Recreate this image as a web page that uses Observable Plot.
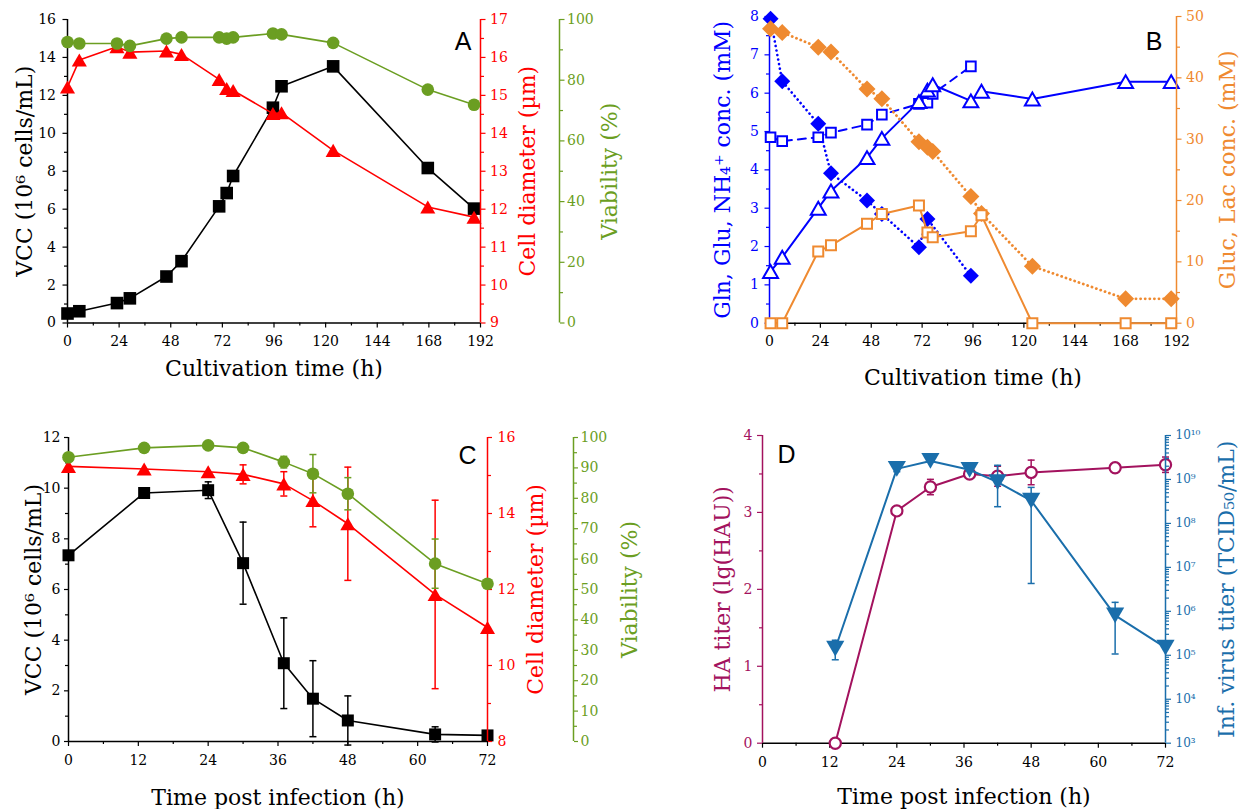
<!DOCTYPE html>
<html>
<head>
<meta charset="utf-8">
<script src="https://cdn.jsdelivr.net/npm/d3@7"></script>
<script src="https://cdn.jsdelivr.net/npm/@observablehq/plot@0.6"></script>
<style>
  html, body { margin: 0; padding: 0; background: #fff; }
  #fig { position: relative; width: 1248px; height: 809px; overflow: hidden; background: #fff; }
  #fig svg { position: absolute; max-width: none; }
</style>
</head>
<body>
<div id="fig"></div>
<script>
// ---------- Panel A: batch cultivation (cell growth) ----------
const timeA      = [0, 5.5, 23, 29, 46, 53, 70.5, 74, 77, 95.5, 99.5, 123.5, 167.5, 189];
const vccA       = [0.5, 0.62, 1.05, 1.3, 2.45, 3.26, 6.15, 6.85, 7.75, 11.35, 12.48, 13.53, 8.17, 6.03];
const diameterA  = [15.22, 15.93, 16.28, 16.14, 16.17, 16.08, 15.42, 15.18, 15.13, 14.52, 14.54, 13.55, 12.06, 11.79];
const viabilityA = [92.6, 92.1, 92.1, 91.3, 93.7, 94.1, 94.1, 93.7, 94.1, 95.4, 95.1, 92.3, 76.9, 71.9];

// ---------- Panel B: metabolites ----------
const timeGln = [0.5, 6, 23, 29, 46, 53, 70.5, 74.5, 95];
const glnB    = [7.94, 6.31, 5.2, 3.91, 3.2, 2.85, 1.98, 2.72, 1.24];
const timeGlu = [0.5, 6, 23, 29, 46, 53, 70.5, 74.5, 77, 95];
const gluB    = [4.85, 4.75, 4.85, 4.97, 5.18, 5.44, 5.72, 5.75, 5.98, 6.7];
const timeB   = [0.5, 6, 23, 29, 46, 53, 70.5, 74.5, 77, 95, 100, 124, 168, 189.5];
const nh4B    = [1.35, 1.72, 3.0, 3.45, 4.32, 4.82, 5.78, 6.08, 6.22, 5.8, 6.05, 5.85, 6.3, 6.3];
const glucB   = [48.0, 47.4, 45.0, 44.2, 38.2, 36.6, 29.6, 28.7, 28.0, 20.65, 17.9, 9.3, 3.97, 3.97];
const lacB    = [0, 0, 11.7, 12.7, 16.2, 17.8, 19.2, 14.8, 14.0, 15.0, 17.6, 0, 0, 0];

// ---------- Panel C: infection phase (cells) ----------
const timeC        = [0, 13, 24, 30, 37, 42, 48, 63, 72];
const vccC         = [7.35, 9.81, 9.92, 7.04, 3.09, 1.69, 0.83, 0.28, 0.24];
const vccErrC      = [0, 0, 0.33, 1.62, 1.79, 1.5, 0.97, 0.3, 0];
const diameterC    = [15.24, 15.17, 15.1, 15.03, 14.78, 14.34, 13.73, 11.87, 11.0];
const diameterErrC = [0, 0, 0, 0.25, 0.32, 0.69, 1.49, 2.48, 0];
const viabilityC   = [93.5, 96.6, 97.4, 96.6, 91.9, 88.1, 81.5, 58.5, 51.9];
const viabErrC     = [0, 0, 0, 0, 1.9, 6.3, 5.3, 8.1, 0];

// ---------- Panel D: virus titers ----------
const timeD     = [13, 24, 30, 37, 42, 48, 63, 72];
const haD       = [0, 3.02, 3.33, 3.5, 3.47, 3.52, 3.58, 3.62];
const haErrD    = [0, 0.05, 0.1, 0.04, 0.13, 0.16, 0, 0.1];
const titerD    = [1.41e5, 1.74e9, 2.63e9, 1.66e9, 8.7e8, 3.3e8, 8.1e5, 1.5e5];
const titerLoD  = [7.9e4, 1.5e9, null, null, 2.4e8, 4.3e6, 1.07e5, null];
const titerHiD  = [2.2e5, 2.0e9, null, null, 2.1e9, 6.6e8, 1.6e6, null];

// ---------- tick values ----------
const ticksCultMajor = [0, 24, 48, 72, 96, 120, 144, 168, 192];
const ticksCultMinor = [12, 36, 60, 84, 108, 132, 156, 180];
const ticksInfMajor  = [0, 12, 24, 36, 48, 60, 72];
const ticksInfMinor  = [6, 18, 30, 42, 54, 66];

// ---------- styling ----------
const SERIF = '"DejaVu Serif", "Liberation Serif", serif';
const SANS = '"Liberation Sans", Arial, sans-serif';
const RED = "#ff0000", GREEN = "#6b9e22", BLUE = "#0000ff", ORANGE = "#ef8a30";
const MAGENTA = "#a3125e", STEEL = "#1a6eab";

// marker shapes; the symbol size is pi*r^2, so h below equals the dot's r
const half = s => Math.sqrt(s / Math.PI);
const capSym = {draw(c, s) { const h = half(s); c.moveTo(-h, 0); c.lineTo(h, 0); }};
const squareSym = {draw(c, s) { const h = half(s); c.rect(-h, -h, 2 * h, 2 * h); }};
const diamondSym = {draw(c, s) { const h = half(s); c.moveTo(0, -h); c.lineTo(h, 0); c.lineTo(0, h); c.lineTo(-h, 0); c.closePath(); }};
const triUpSym = {draw(c, s) { const h = half(s); c.moveTo(0, -0.75 * h); c.lineTo(0.866 * h, 0.75 * h); c.lineTo(-0.866 * h, 0.75 * h); c.closePath(); }};
const triDownSym = {draw(c, s) { const h = half(s); c.moveTo(0, 0.75 * h); c.lineTo(0.866 * h, -0.75 * h); c.lineTo(-0.866 * h, -0.75 * h); c.closePath(); }};

const SUP = {"0": "⁰", "1": "¹", "2": "²", "3": "³", "4": "⁴", "5": "⁵", "6": "⁶", "7": "⁷", "8": "⁸", "9": "⁹"};
const powerOfTen = d => "10" + String(Math.round(Math.log10(d))).split("").map(c => SUP[c]).join("");
const plain = d => String(d);

const fig = document.getElementById("fig");

// Each panel is a stack of transparent plots sharing the same frame, one per y scale.
function layer(p, y, marks) {
  const svg = Plot.plot({
    width: p.width, height: p.height,
    marginLeft: p.ml, marginRight: p.mr, marginTop: p.mt, marginBottom: p.mb,
    x: {domain: p.xDomain, axis: null},
    y: {...y, axis: null},
    style: {fontFamily: SERIF, fontSize: "14px", background: "none", overflow: "visible", color: "black"},
    marks
  });
  svg.style.left = p.left + "px";
  svg.style.top = p.top + "px";
  fig.appendChild(svg);
}

function yAxis({anchor, major, minor, color, edge, dx = 0, size = 4.5, pad = 5, format = plain, fontSize = 14}) {
  return [
    Plot.ruleX([edge], {stroke: color, strokeWidth: 1.5, dx}),
    Plot.axisY({anchor, ticks: minor, tickSize: 3, stroke: color, strokeWidth: 1.2, fill: "none", dx, label: null}),
    Plot.axisY({anchor, ticks: major, tickSize: size, tickPadding: pad, stroke: color, strokeWidth: 1.2,
                fill: color, dx, label: null, tickFormat: format, fontSize})
  ];
}

function xAxis({major, minor, edge, pad = 7}) {
  return [
    Plot.ruleY([edge], {stroke: "black", strokeWidth: 1.5}),
    Plot.axisX({ticks: minor, tickSize: 3, stroke: "black", strokeWidth: 1.2, fill: "none", label: null}),
    Plot.axisX({ticks: major, tickSize: 5, tickPadding: pad, stroke: "black", strokeWidth: 1.2,
                fill: "black", label: null, tickFormat: plain, fontSize: 14})
  ];
}

function yTitle(text, anchor, dx, color) {
  return Plot.text([text], {frameAnchor: anchor, rotate: -90, dx, fill: color, fontSize: 22,
                            textAnchor: "middle", lineAnchor: "middle"});
}
function xTitle(text, dy) {
  return Plot.text([text], {frameAnchor: "bottom", dy, fill: "black", fontSize: 22,
                            textAnchor: "middle", lineAnchor: "middle"});
}
function panelLetter(text, anchor, dx, dy) {
  return Plot.text([text], {frameAnchor: anchor, dx, dy, fontSize: 25, fontFamily: SANS, fill: "black",
                            textAnchor: anchor.endsWith("right") ? "end" : "start", lineAnchor: "middle"});
}

function errorBars(rows, {x, lo, hi, color, r = 3.5}) {
  return [
    Plot.ruleX(rows, {x, y1: lo, y2: hi, stroke: color, strokeWidth: 1.5}),
    Plot.dot(rows, {x, y: lo, symbol: capSym, r, stroke: color, strokeWidth: 1.5, fill: "none"}),
    Plot.dot(rows, {x, y: hi, symbol: capSym, r, stroke: color, strokeWidth: 1.5, fill: "none"})
  ];
}

// dotted line style (round dots)
const DOTS = {strokeDasharray: "0.1,4.5", strokeLinecap: "round"};

// ================= Panel A =================
const pA = {left: 0, top: 0, width: 624, height: 400, ml: 67, mr: 144, mt: 19, mb: 77.5, xDomain: [0, 192]};
const rowsA = timeA.map((t, i) => ({t, vcc: vccA[i], d: diameterA[i], v: viabilityA[i]}));

layer(pA, {domain: [0, 16]}, [
  ...xAxis({major: ticksCultMajor, minor: ticksCultMinor, edge: 0, pad: 8}),
  ...yAxis({anchor: "left", major: d3.range(0, 17, 2), minor: d3.range(1, 16, 2), color: "black", edge: 0, size: 4.5, pad: 7}),
  Plot.line(rowsA, {x: "t", y: "vcc", stroke: "black", strokeWidth: 1.6}),
  Plot.dot(rowsA, {x: "t", y: "vcc", symbol: squareSym, r: 6.3, fill: "black"}),
  yTitle("VCC (10⁶ cells/mL)", "left", -43, "black"),
  xTitle("Cultivation time (h)", 46),
  panelLetter("A", "top-right", -9, 22.5)
]);
layer(pA, {domain: [9, 17]}, [
  ...yAxis({anchor: "right", major: d3.range(9, 18, 1), minor: d3.range(9.5, 17, 1), color: RED, edge: 192, size: 4.5, pad: 5}),
  Plot.line(rowsA, {x: "t", y: "d", stroke: RED, strokeWidth: 1.6}),
  Plot.dot(rowsA, {x: "t", y: "d", symbol: triUpSym, r: 8.7, fill: RED}),
  yTitle("Cell diameter (µm)", "right", 47, RED)
]);
layer(pA, {domain: [0, 100]}, [
  ...yAxis({anchor: "right", major: d3.range(0, 101, 20), minor: d3.range(10, 100, 20), color: GREEN, edge: 192, dx: 79, size: 4.5, pad: 3}),
  Plot.line(rowsA, {x: "t", y: "v", stroke: GREEN, strokeWidth: 1.6}),
  Plot.dot(rowsA, {x: "t", y: "v", r: 6.3, fill: GREEN}),
  yTitle("Viability (%)", "right", 129, GREEN)
]);

// ================= Panel B =================
const pB = {left: 624, top: 0, width: 624, height: 400, ml: 145, mr: 72, mt: 16, mb: 77.3, xDomain: [0, 192]};
const rowsGln = timeGln.map((t, i) => ({t, v: glnB[i]}));
const rowsGlu = timeGlu.map((t, i) => ({t, v: gluB[i]}));
const rowsB = timeB.map((t, i) => ({t, nh4: nh4B[i], gluc: glucB[i], lac: lacB[i]}));

layer(pB, {domain: [0, 8]}, [
  ...xAxis({major: ticksCultMajor, minor: ticksCultMinor, edge: 0, pad: 8}),
  ...yAxis({anchor: "left", major: d3.range(0, 9, 1), minor: d3.range(0.5, 8, 1), color: BLUE, edge: 0, size: 4.5, pad: 6}),
  Plot.line(rowsGln, {x: "t", y: "v", stroke: BLUE, strokeWidth: 2.6, ...DOTS}),
  Plot.line(rowsGlu, {x: "t", y: "v", stroke: BLUE, strokeWidth: 2, strokeDasharray: "8,6"}),
  Plot.line(rowsB, {x: "t", y: "nh4", stroke: BLUE, strokeWidth: 2}),
  Plot.dot(rowsGln, {x: "t", y: "v", symbol: diamondSym, r: 8, fill: BLUE}),
  Plot.dot(rowsGlu, {x: "t", y: "v", symbol: squareSym, r: 4.8, fill: "white", stroke: BLUE, strokeWidth: 2}),
  Plot.dot(rowsB, {x: "t", y: "nh4", symbol: triUpSym, r: 8.6, fill: "white", stroke: BLUE, strokeWidth: 2}),
  yTitle("Gln, Glu, NH₄⁺ conc. (mM)", "left", -47, BLUE),
  xTitle("Cultivation time (h)", 55),
  panelLetter("B", "top-right", -14, 25)
]);
layer(pB, {domain: [0, 50]}, [
  ...yAxis({anchor: "right", major: d3.range(0, 51, 10), minor: d3.range(5, 50, 10), color: ORANGE, edge: 192, size: 4.5, pad: 5}),
  Plot.line(rowsB, {x: "t", y: "gluc", stroke: ORANGE, strokeWidth: 2.8, ...DOTS}),
  Plot.line(rowsB, {x: "t", y: "lac", stroke: ORANGE, strokeWidth: 2}),
  Plot.dot(rowsB, {x: "t", y: "gluc", symbol: diamondSym, r: 8.5, fill: ORANGE}),
  Plot.dot(rowsB, {x: "t", y: "lac", symbol: squareSym, r: 5, fill: "white", stroke: ORANGE, strokeWidth: 2}),
  yTitle("Gluc, Lac conc. (mM)", "right", 51, ORANGE)
]);

// ================= Panel C =================
const pC = {left: 0, top: 400, width: 624, height: 409, ml: 68, mr: 137, mt: 37, mb: 68, xDomain: [0, 72]};
const rowsC = timeC.map((t, i) => ({t, vcc: vccC[i], ve: vccErrC[i], d: diameterC[i], de: diameterErrC[i], v: viabilityC[i], vie: viabErrC[i]}));

layer(pC, {domain: [0, 12]}, [
  ...xAxis({major: ticksInfMajor, minor: ticksInfMinor, edge: 0, pad: 9}),
  ...yAxis({anchor: "left", major: d3.range(0, 13, 2), minor: d3.range(1, 12, 2), color: "black", edge: 0, size: 4, pad: 4}),
  ...errorBars(rowsC.filter(r => r.ve > 0), {x: "t", lo: r => r.vcc - r.ve, hi: r => r.vcc + r.ve, color: "black"}),
  Plot.line(rowsC, {x: "t", y: "vcc", stroke: "black", strokeWidth: 1.6}),
  Plot.dot(rowsC, {x: "t", y: "vcc", symbol: squareSym, r: 6, fill: "black"}),
  yTitle("VCC (10⁶ cells/mL)", "left", -35, "black"),
  xTitle("Time post infection (h)", 56),
  panelLetter("C", "top-right", -11, 18)
]);
layer(pC, {domain: [8, 16]}, [
  ...yAxis({anchor: "right", major: d3.range(8, 17, 2), minor: d3.range(9, 16, 2), color: RED, edge: 72, size: 4, pad: 6}),
  ...errorBars(rowsC.filter(r => r.de > 0), {x: "t", lo: r => r.d - r.de, hi: r => r.d + r.de, color: RED}),
  Plot.line(rowsC, {x: "t", y: "d", stroke: RED, strokeWidth: 1.6}),
  Plot.dot(rowsC, {x: "t", y: "d", symbol: triUpSym, r: 8.7, fill: RED}),
  yTitle("Cell diameter (µm)", "right", 48, RED)
]);
layer(pC, {domain: [0, 100]}, [
  ...yAxis({anchor: "right", major: d3.range(0, 101, 10), minor: d3.range(5, 100, 10), color: GREEN, edge: 72, dx: 86, size: 4, pad: 3}),
  ...errorBars(rowsC.filter(r => r.vie > 0), {x: "t", lo: r => r.v - r.vie, hi: r => r.v + r.vie, color: GREEN}),
  Plot.line(rowsC, {x: "t", y: "v", stroke: GREEN, strokeWidth: 1.6}),
  Plot.dot(rowsC, {x: "t", y: "v", r: 6.3, fill: GREEN}),
  yTitle("Viability (%)", "right", 142, GREEN)
]);

// ================= Panel D =================
const pD = {left: 624, top: 400, width: 624, height: 409, ml: 138, mr: 83, mt: 35, mb: 66.3, xDomain: [0, 72]};
const rowsD = timeD.map((t, i) => ({t, ha: haD[i], he: haErrD[i], titer: titerD[i], lo: titerLoD[i], hi: titerHiD[i]}));
const logMajor = d3.range(3, 11).map(e => 10 ** e);
const logMinor = d3.range(3, 10).flatMap(e => d3.range(2, 10).map(k => k * 10 ** e));

layer(pD, {domain: [0, 4]}, [
  ...xAxis({major: ticksInfMajor, minor: ticksInfMinor, edge: 0, pad: 9}),
  ...yAxis({anchor: "left", major: d3.range(0, 5, 1), minor: d3.range(0.5, 4, 1), color: MAGENTA, edge: 0, size: 5, pad: 5}),
  ...errorBars(rowsD.filter(r => r.he > 0), {x: "t", lo: r => r.ha - r.he, hi: r => r.ha + r.he, color: MAGENTA}),
  Plot.line(rowsD, {x: "t", y: "ha", stroke: MAGENTA, strokeWidth: 2}),
  Plot.dot(rowsD, {x: "t", y: "ha", r: 5.6, fill: "white", stroke: MAGENTA, strokeWidth: 2.2}),
  yTitle("HA titer (lg(HAU))", "left", -40, MAGENTA),
  xTitle("Time post infection (h)", 54),
  panelLetter("D", "top-left", 15, 19)
]);
layer(pD, {type: "log", domain: [1e3, 1e10]}, [
  ...yAxis({anchor: "right", major: logMajor, minor: logMinor, color: STEEL, edge: 72, size: 5, pad: 5, format: powerOfTen, fontSize: 12}),
  ...errorBars(rowsD.filter(r => r.lo != null), {x: "t", lo: "lo", hi: "hi", color: STEEL}),
  Plot.line(rowsD, {x: "t", y: "titer", stroke: STEEL, strokeWidth: 2}),
  Plot.dot(rowsD, {x: "t", y: "titer", symbol: triDownSym, r: 10.5, fill: STEEL}),
  yTitle("Inf. virus titer (TCID₅₀/mL)", "right", 61, STEEL)
]);
</script>
</body>
</html>
